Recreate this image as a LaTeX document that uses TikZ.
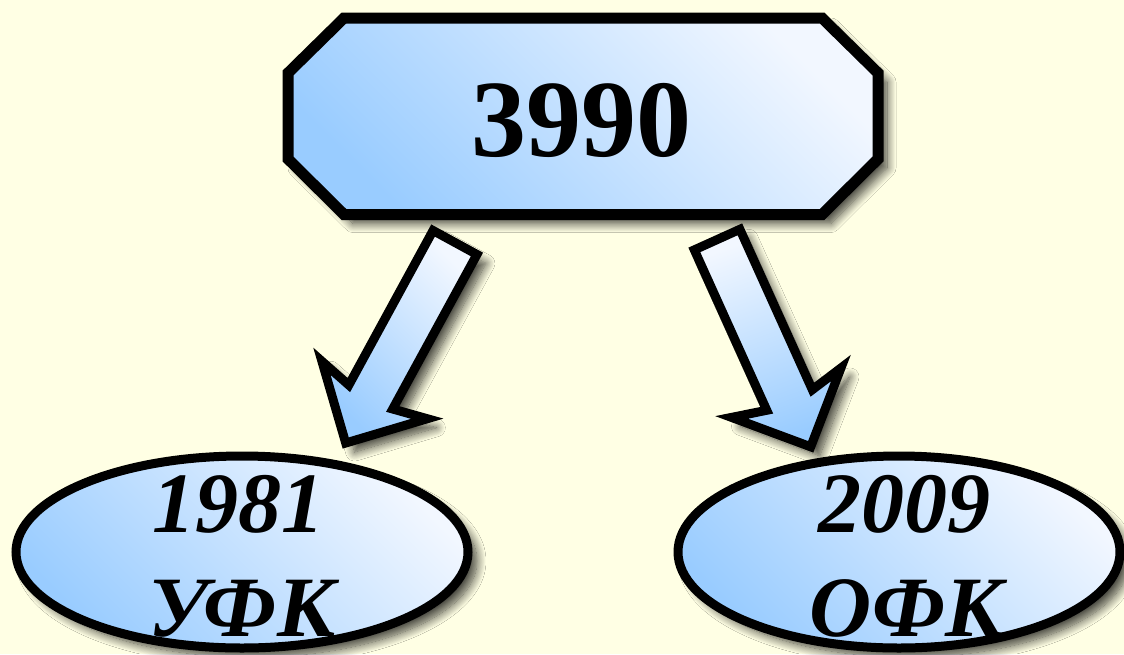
\documentclass[tikz,border=0pt]{standalone}
\usepackage{fontspec}
\setmainfont{Liberation Serif}
\usetikzlibrary{calc,shapes.geometric,shadows.blur}
\definecolor{bg}{RGB}{255,255,228}
\definecolor{bluec}{RGB}{153,204,255}
\definecolor{whitec}{RGB}{242,247,255}
\newcommand\blockarrow[3]{%
  \draw[#3] ($(#1)!25pt!90:(#2)$)
    -- ($(#1)!176pt!(#2)!25pt!90:(#2)$)
    -- ($(#1)!168pt!(#2)!60pt!90:(#2)$)
    -- (#2)
    -- ($(#1)!168pt!(#2)!60pt!-90:(#2)$)
    -- ($(#1)!176pt!(#2)!25pt!-90:(#2)$)
    -- ($(#1)!25pt!-90:(#2)$) -- cycle;}
\begin{document}
\begin{tikzpicture}[x=1pt,y=-1pt,
  shadowed/.style={blur shadow={shadow xshift=9pt, shadow yshift=-9pt,
      shadow blur radius=9pt, shadow blur steps=14, shadow opacity=75}},
  diagshade/.style={top color=bluec, bottom color=whitec, shading angle=135},
  arrowshade/.style={top color=whitec, bottom color=bluec, shading angle=20},
  octo/.style={draw=black, line width=11pt, line join=miter, diagshade, shadowed},
  oval/.style={ellipse, draw=black, line width=9pt, inner sep=0pt,
      minimum width=452pt, minimum height=192pt, diagshade, shadowed},
  blk/.style={draw=black, line width=9pt, line join=miter, shadowed},
  bignum/.style={inner sep=0pt, font=\fontsize{110}{120}\selectfont\bfseries},
  lbl/.style={inner sep=0pt, font=\fontsize{86}{100}\selectfont\bfseries\itshape}]
\fill[bg] (0,0) rectangle (1124,654);
\useasboundingbox (0,0) rectangle (1124,654);
% top box
\draw[octo] (344,18) -- (822,18) -- (878,73) -- (878,159) -- (822,214.5)
  -- (344,214.5) -- (288,159) -- (288,73) -- cycle;
\node[bignum, anchor=base] (top) at (581,156) {3990};
% ellipses
\node[oval] (left) at (242,552) {};
\node[oval, minimum width=442pt] (right) at (899,552) {};
\node[lbl, anchor=base] (l1) at (238,532) {1981};
\node[lbl, anchor=base] (l2) at (242,636) {УФК};
\node[lbl, anchor=base] (r1) at (904,532) {2009};
\node[lbl, anchor=base] (r2) at (907,636) {ОФК};
% arrows
\coordinate (as) at (455,242.5);
\coordinate (ae) at (345.7,443);
\coordinate (bs) at (717.1,239.6);
\coordinate (be) at (810.7,446.8);
\blockarrow{as}{ae}{blk, diagshade}
\blockarrow{bs}{be}{blk, arrowshade}
\end{tikzpicture}
\end{document}
